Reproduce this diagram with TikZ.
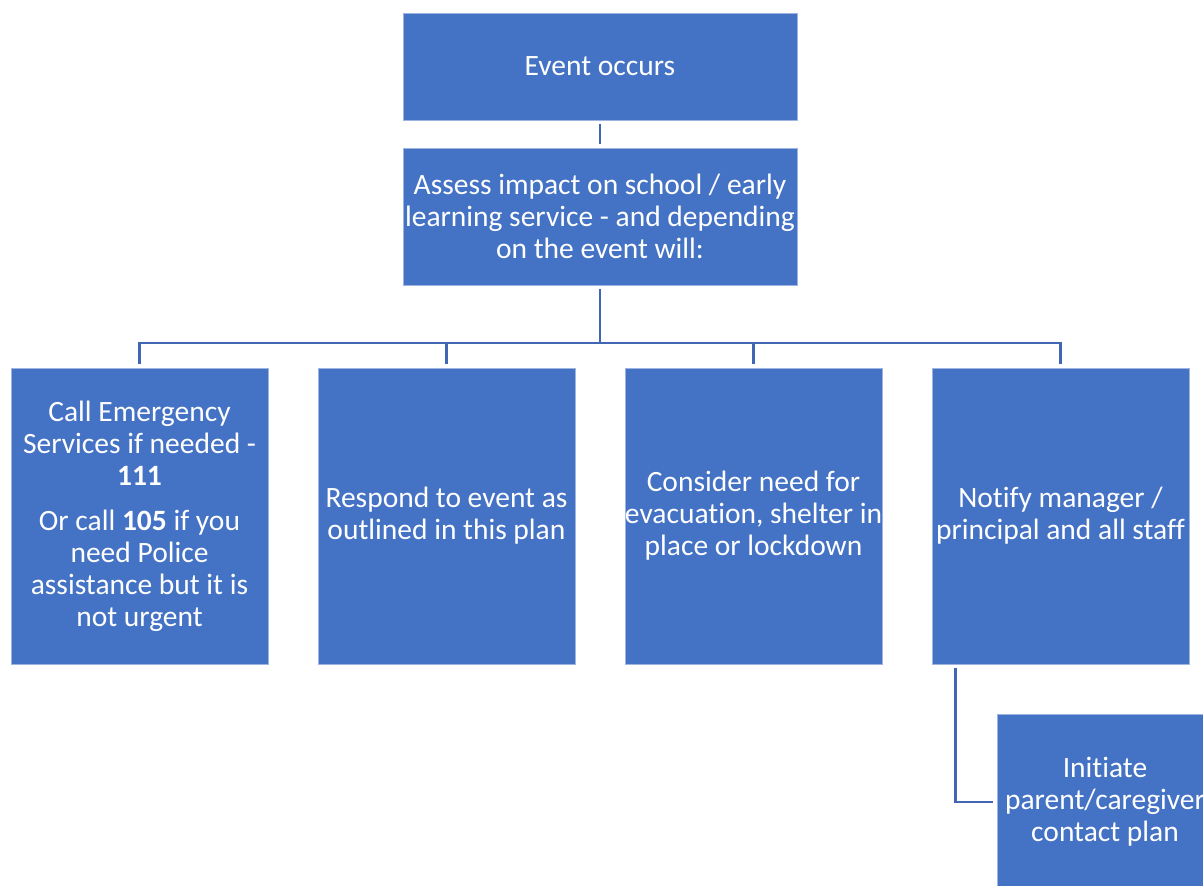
\documentclass[tikz,border=0pt]{standalone}
\usepackage{fontspec}
\setmainfont[Ligatures=NoCommon]{Carlito}
\definecolor{boxblue}{HTML}{4472C4}
\definecolor{lineblue}{HTML}{3F67B3}
\definecolor{edgeblue}{HTML}{9DB5E0}
\tikzset{
  box/.style={draw=edgeblue, line width=0.8pt, fill=boxblue, text=white, align=center,
    font=\fontsize{29.5}{32}\selectfont, inner xsep=0pt, inner ysep=2pt},
  conn/.style={draw=lineblue, line width=2.8pt, shorten <=4pt, shorten >=4pt}
}
\begin{document}
\begin{tikzpicture}[x=1pt,y=-1pt]
\useasboundingbox (0,0) rectangle (1203,886);
\begin{scope}
\clip (0,0) rectangle (1203,886);
\node[box, minimum width=394pt, minimum height=107pt] (event) at (600,66.5) {Event occurs};
\node[box, minimum width=394pt, minimum height=137pt] (assess) at (600,216.5) {Assess impact on school / early\\learning service - and depending\\on the event will:};

\node[box, minimum width=257pt, minimum height=296pt] (call) at (139.5,516) {Call Emergency\\Services if needed -\\\textbf{111}\\[13pt]Or call \textbf{105} if you\\need Police\\assistance but it is\\not urgent};
\node[box, minimum width=257pt, minimum height=296pt] (respond) at (446.5,516) {Respond to event as\\outlined in this plan};
\node[box, minimum width=257pt, minimum height=296pt] (consider) at (753.5,516) {Consider need for\\evacuation, shelter in\\place or lockdown};
\node[box, minimum width=257pt, minimum height=296pt] (notify) at (1060.5,516) {Notify manager /\\principal and all staff};

\node[box, minimum width=216pt, minimum height=176pt] (initiate) at (1105,802) {Initiate\\parent/caregiver\\contact plan};
\end{scope}

\coordinate (bus) at (600,343);
\coordinate (nt) at ([xshift=24pt]notify.south west);

\path[conn] (event) -- (assess);
\path[conn] (assess.south) -- (bus) -| (call.north);
\path[conn] (assess.south) -- (bus) -| (respond.north);
\path[conn] (assess.south) -- (bus) -| (consider.north);
\path[conn] (assess.south) -- (bus) -| (notify.north);
\path[conn] (nt) |- (initiate.west);
\end{tikzpicture}
\end{document}
